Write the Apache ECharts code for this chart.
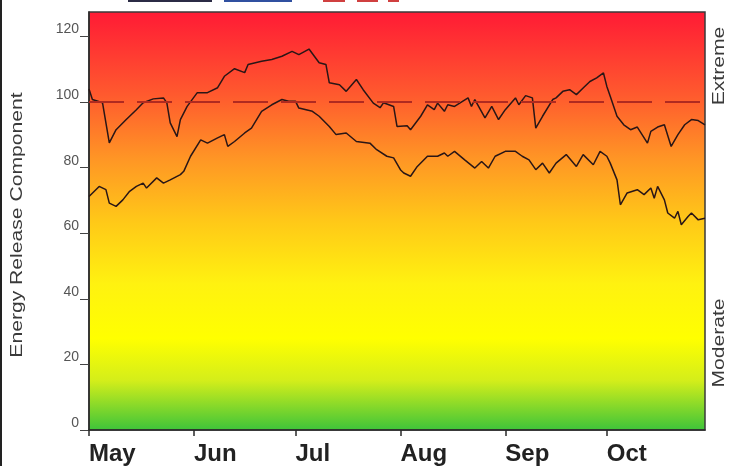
<!DOCTYPE html>
<html>
<head>
<meta charset="utf-8">
<script src="https://cdn.jsdelivr.net/npm/echarts@6/dist/echarts.min.js"></script>
<style>
  html, body { margin: 0; padding: 0; background: #fff; }
  #chart { width: 734px; height: 466px; }
</style>
</head>
<body>
<div id="chart"></div>
<script>
// 月份刻度（距 5 月 1 日的天数）
const monthNames = ['May', 'Jun', 'Jul', 'Aug', 'Sep', 'Oct']
const monthStarts = [0, 31, 61, 92, 123, 153]
const yTicks = [0, 20, 40, 60, 80, 100, 120]

// 上方曲线
const upperDays = [0, 1, 4, 6, 8, 11, 14, 16, 19, 22, 23, 24, 26, 27, 29, 32, 35, 38, 40, 43,
  46, 47, 51, 54, 57, 60, 62, 65, 68, 70, 71, 74, 76, 79, 81, 84, 86, 87, 90, 91,
  94, 95, 98, 100, 102, 103, 105, 106, 108, 112, 113, 114, 117, 119, 121, 123, 126, 127, 129, 131,
  132, 134, 137, 138, 140, 142, 144, 146, 148, 150, 152, 153, 154, 156, 158, 160, 162, 165, 166, 168,
  170, 172, 174, 176, 178, 180, 182]
const upperVals = [104, 100.8, 99.8, 87.6, 91.6, 94.7, 97.7, 99.8, 101, 101.3, 99.8, 93.7, 89.5, 94.7, 98.7, 102.9, 102.9, 104.4, 107.9, 110.2,
  109, 111.5, 112.5, 113, 114, 115.5, 114.5, 116.2, 112, 111.5, 105.9, 105.3, 103.3, 106.9, 103.8, 99.7, 98.3, 99.8, 98.7, 92.6,
  92.8, 91.6, 95.7, 99.2, 97.7, 99.7, 97.2, 99.2, 98.7, 101.3, 98.7, 100.8, 95.2, 98.7, 94.7, 97.7, 101.3, 99.2, 102, 101.3,
  92.1, 95.7, 100.8, 101.3, 103.3, 103.8, 102.3, 104.3, 106.3, 107.4, 108.9, 104.8, 101.8, 95.7, 93.1, 91.6, 92.4, 87.5, 91.1, 92.4,
  93.1, 86.5, 90.1, 93.1, 94.7, 94.4, 93.1]

// 下方曲线
const lowerDays = [0, 3, 5, 6, 8, 10, 12, 14, 16, 17, 20, 22, 24, 27, 28, 30, 33, 35, 38, 40,
  41, 43, 46, 48, 51, 54, 57, 59, 61, 62, 66, 68, 71, 73, 76, 79, 83, 85, 88, 90,
  92, 93, 95, 97, 100, 103, 105, 106, 108, 111, 114, 116, 118, 120, 123, 126, 128, 130, 132, 134,
  136, 138, 141, 144, 146, 149, 151, 153, 154, 156, 157, 159, 162, 164, 166, 167, 168, 170, 171, 173,
  174, 175, 177, 178, 180, 182]
const lowerVals = [71.2, 74.3, 73.3, 69.2, 68.2, 70.2, 72.8, 74.3, 75.3, 73.8, 76.9, 75.3, 76.3, 77.9, 78.9, 83.5, 88.5, 87.5, 89.1, 90.1,
  86.5, 88, 90.6, 92.1, 97.2, 99.2, 100.8, 100.3, 100.3, 98.2, 97.2, 95.7, 92.6, 90.1, 90.6, 88, 87.5, 85.5, 83.5, 83,
  79.4, 78.4, 77.4, 80.4, 83.5, 83.5, 84.5, 83.5, 85, 82.4, 79.9, 81.9, 79.9, 83.5, 85, 85, 83.5, 82.4, 79.4, 81.4,
  78.4, 81.4, 84, 80.4, 84, 80.9, 85, 83.5, 81.4, 76.3, 68.7, 72.3, 73.3, 71.8, 73.8, 70.7, 74.3, 70.2, 66.2, 64.6,
  66.7, 62.6, 65.1, 66.2, 64.1, 64.6]

const thresholdValue = 100

const chart = echarts.init(document.getElementById('chart'), null, { renderer: 'canvas' })

const sideText = (text, x, y, size) => ({
  type: 'text',
  x: x,
  y: y,
  rotation: Math.PI / 2,
  scaleX: 1.32,
  style: {
    text: text,
    fill: '#3a3a3a',
    font: size + 'px "Liberation Sans", Arial, sans-serif',
    align: 'center',
    verticalAlign: 'middle'
  }
})

const option = {
  animation: false,
  backgroundColor: '#fff',
  grid: {
    left: 89,
    right: 29,
    top: 12,
    bottom: 36,
    show: true,
    borderColor: '#3a3a3a',
    borderWidth: 1.5,
    // 背景渐变：红 -> 橙 -> 黄 -> 绿
    backgroundColor: {
      type: 'linear', x: 0, y: 0, x2: 0, y2: 1,
      colorStops: [
        { offset: 0, color: '#ff1a35' },
        { offset: 0.2, color: '#ff5a2e' },
        { offset: 0.35, color: '#ff9525' },
        { offset: 0.5, color: '#ffc818' },
        { offset: 0.65, color: '#fff210' },
        { offset: 0.78, color: '#ffff00' },
        { offset: 0.88, color: '#d4ee1a' },
        { offset: 1, color: '#3cc43a' }
      ]
    }
  },
  xAxis: {
    type: 'value',
    min: 0,
    max: 182,
    splitLine: { show: false },
    axisLine: { show: true, lineStyle: { color: '#2a2a2a', width: 1.5 } },
    axisTick: {
      show: true,
      customValues: monthStarts,
      length: 6,
      lineStyle: { color: '#2a2a2a', width: 1.5 }
    },
    axisLabel: {
      customValues: monthStarts,
      align: 'left',
      margin: 12,
      color: '#222',
      fontWeight: 'bold',
      fontSize: 24,
      fontFamily: '"Liberation Sans Narrow", "Arial Narrow", Arial, sans-serif',
      formatter: v => monthNames[monthStarts.indexOf(v)] || ''
    }
  },
  yAxis: {
    type: 'value',
    min: 0,
    max: 127.5,
    splitLine: { show: false },
    axisLine: { show: true, lineStyle: { color: '#2a2a2a', width: 1.5 } },
    axisTick: {
      show: true,
      customValues: yTicks,
      length: 9,
      lineStyle: { color: '#444', width: 1 }
    },
    axisLabel: {
      customValues: yTicks,
      margin: 10,
      verticalAlign: 'bottom',
      color: '#555',
      fontSize: 14,
      fontFamily: '"Liberation Sans Narrow", "Arial Narrow", Arial, sans-serif'
    }
  },
  series: [
    {
      name: 'upper',
      type: 'line',
      data: upperDays.map((d, i) => [d, upperVals[i]]),
      showSymbol: false,
      lineStyle: { color: '#2a1616', width: 1.5 },
      markLine: {
        silent: true,
        symbol: 'none',
        label: { show: false },
        lineStyle: { color: '#b02a20', type: [35, 13], width: 2 },
        data: [{ yAxis: thresholdValue }]
      }
    },
    {
      name: 'lower',
      type: 'line',
      data: lowerDays.map((d, i) => [d, lowerVals[i]]),
      showSymbol: false,
      lineStyle: { color: '#2a1616', width: 1.5 }
    }
  ],
  graphic: [
    // 左侧边框
    { type: 'rect', shape: { x: 0, y: 0, width: 2, height: 466 }, style: { fill: '#222' } },
    // 被裁掉的图例残影
    { type: 'rect', shape: { x: 128, y: 0, width: 84, height: 2 }, style: { fill: '#2b2b45' } },
    { type: 'rect', shape: { x: 224, y: 0, width: 68, height: 2 }, style: { fill: '#3050a0' } },
    { type: 'rect', shape: { x: 323, y: 0, width: 22, height: 2 }, style: { fill: '#d04040' } },
    { type: 'rect', shape: { x: 357, y: 0, width: 21, height: 2 }, style: { fill: '#d04040' } },
    { type: 'rect', shape: { x: 388, y: 0, width: 11, height: 2 }, style: { fill: '#d04040' } },
    sideText('Energy Release Component', 18, 225, 16),
    sideText('Extreme', 720, 66, 16),
    sideText('Moderate', 720, 343, 16)
  ]
}

chart.setOption(option)
</script>
</body>
</html>
